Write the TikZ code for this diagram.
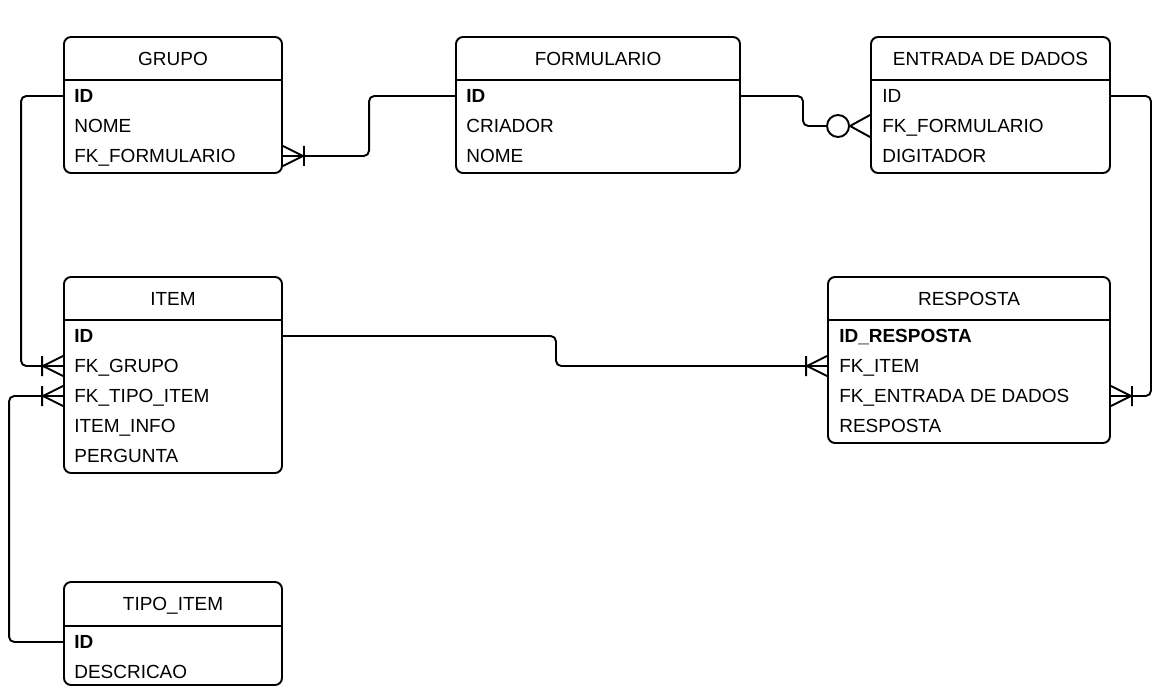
\documentclass[tikz,border=0pt]{standalone}
\usepackage{fontspec}
\setmainfont{Liberation Sans}
\usetikzlibrary{fit, calc}

% crow's foot ends: #1 = point on the box edge, #2 = 1 (box to the right) or -1 (box to the left)
\newcommand{\oneormany}[2]{%
  \draw[foot, shift={(#1)}, xscale=#2] (0,-10) -- (-20,0) -- (0,10) (-21,-10) -- (-21,10);}
\newcommand{\zeroormany}[2]{%
  \draw[foot, shift={(#1)}, xscale=#2] (0,-11) -- (-20,0) -- (0,11) (-32,0) circle[radius=0.22cm];}

\begin{document}
\begin{tikzpicture}[x=0.02cm, y=-0.02cm,
    entity/.style={draw, line width=1.1pt, rounded corners=4pt, inner sep=0pt},
    head/.style={inner sep=0pt},
    title/.style={inner sep=0pt, text height=7.7pt, text depth=0pt,
      font=\fontsize{10.8pt}{13pt}\selectfont},
    field/.style={anchor=west, inner sep=0pt, text height=7.7pt, text depth=0pt,
      font=\fontsize{10.8pt}{13pt}\selectfont},
    sep/.style={line width=1.1pt},
    conn/.style={line width=1.1pt, rounded corners=3pt},
    foot/.style={line width=1.1pt}
  ]
  \useasboundingbox (0,0) rectangle (1152,689);

  % entities
  \node[entity, fit={(64,37) (282,173)}] (grupo) {};
  \node[head, fit={(64,37) (282,80)}] (grupo-head) {};
  \node[title] (grupo-title) at (grupo-head.center) {GRUPO};
  \draw[sep] (grupo-head.south west) -- (grupo-head.south east);
  \foreach \k/\t [count=\i] in {id/\textbf{ID}, nome/NOME, fk/FK\_FORMULARIO}
    \node[field] (grupo-\k) at (74,66+30*\i) {\t};

  \node[entity, fit={(456,37) (740,173)}] (form) {};
  \node[head, fit={(456,37) (740,80)}] (form-head) {};
  \node[title] (form-title) at (form-head.center) {FORMULARIO};
  \draw[sep] (form-head.south west) -- (form-head.south east);
  \foreach \k/\t [count=\i] in {id/\textbf{ID}, criador/CRIADOR, nome/NOME}
    \node[field] (form-\k) at (466,66+30*\i) {\t};

  \node[entity, fit={(871,37) (1110,173)}] (entrada) {};
  \node[head, fit={(871,37) (1110,80)}] (entrada-head) {};
  \node[title] (entrada-title) at (entrada-head.center) {ENTRADA DE DADOS};
  \draw[sep] (entrada-head.south west) -- (entrada-head.south east);
  \foreach \k/\t [count=\i] in {id/ID, fk/FK\_FORMULARIO, dig/DIGITADOR}
    \node[field] (entrada-\k) at (882,66+30*\i) {\t};

  \node[entity, fit={(64,277) (282,473)}] (item) {};
  \node[head, fit={(64,277) (282,320)}] (item-head) {};
  \node[title] (item-title) at (item-head.center) {ITEM};
  \draw[sep] (item-head.south west) -- (item-head.south east);
  \foreach \k/\t [count=\i] in {id/\textbf{ID}, fkgrupo/FK\_GRUPO, fktipo/FK\_TIPO\_ITEM,
      info/ITEM\_INFO, perg/PERGUNTA}
    \node[field] (item-\k) at (74,306+30*\i) {\t};

  \node[entity, fit={(828,277) (1110,443)}] (resp) {};
  \node[head, fit={(828,277) (1110,320)}] (resp-head) {};
  \node[title] (resp-title) at (resp-head.center) {RESPOSTA};
  \draw[sep] (resp-head.south west) -- (resp-head.south east);
  \foreach \k/\t [count=\i] in {id/\textbf{ID\_RESPOSTA}, fkitem/FK\_ITEM,
      fkent/FK\_ENTRADA DE DADOS, resp/RESPOSTA}
    \node[field] (resp-\k) at (839,306+30*\i) {\t};

  \node[entity, fit={(64,582) (282,685)}] (tipo) {};
  \node[head, fit={(64,582) (282,626)}] (tipo-head) {};
  \node[title] (tipo-title) at (tipo-head.center) {TIPO\_ITEM};
  \draw[sep] (tipo-head.south west) -- (tipo-head.south east);
  \foreach \k/\t [count=\i] in {id/\textbf{ID}, desc/DESCRICAO}
    \node[field] (tipo-\k) at (74,612+30*\i) {\t};

  % relations
  \draw[conn] (grupo.west |- grupo-id) -- ++(-42,0) |- (item.west |- item-fkgrupo);
  \oneormany{item.west |- item-fkgrupo}{1}

  \draw[conn] (form.west |- form-id) -- ++(-86,0) |- (grupo.east |- grupo-fk);
  \oneormany{grupo.east |- grupo-fk}{-1}

  \draw[conn] (form.east |- form-id) -- ++(62,0) |- ($(entrada.west |- entrada-fk)+(-43,0)$);
  \zeroormany{entrada.west |- entrada-fk}{1}

  \draw[conn] (entrada.east |- entrada-id) -- ++(40,0) |- (resp.east |- resp-fkent);
  \oneormany{resp.east |- resp-fkent}{-1}

  \draw[conn] (item.east |- item-id) -- ++(273,0) |- (resp.west |- resp-fkitem);
  \oneormany{resp.west |- resp-fkitem}{1}

  \draw[conn] (tipo.west |- tipo-id) -- ++(-54,0) |- (item.west |- item-fktipo);
  \oneormany{item.west |- item-fktipo}{1}
\end{tikzpicture}
\end{document}
